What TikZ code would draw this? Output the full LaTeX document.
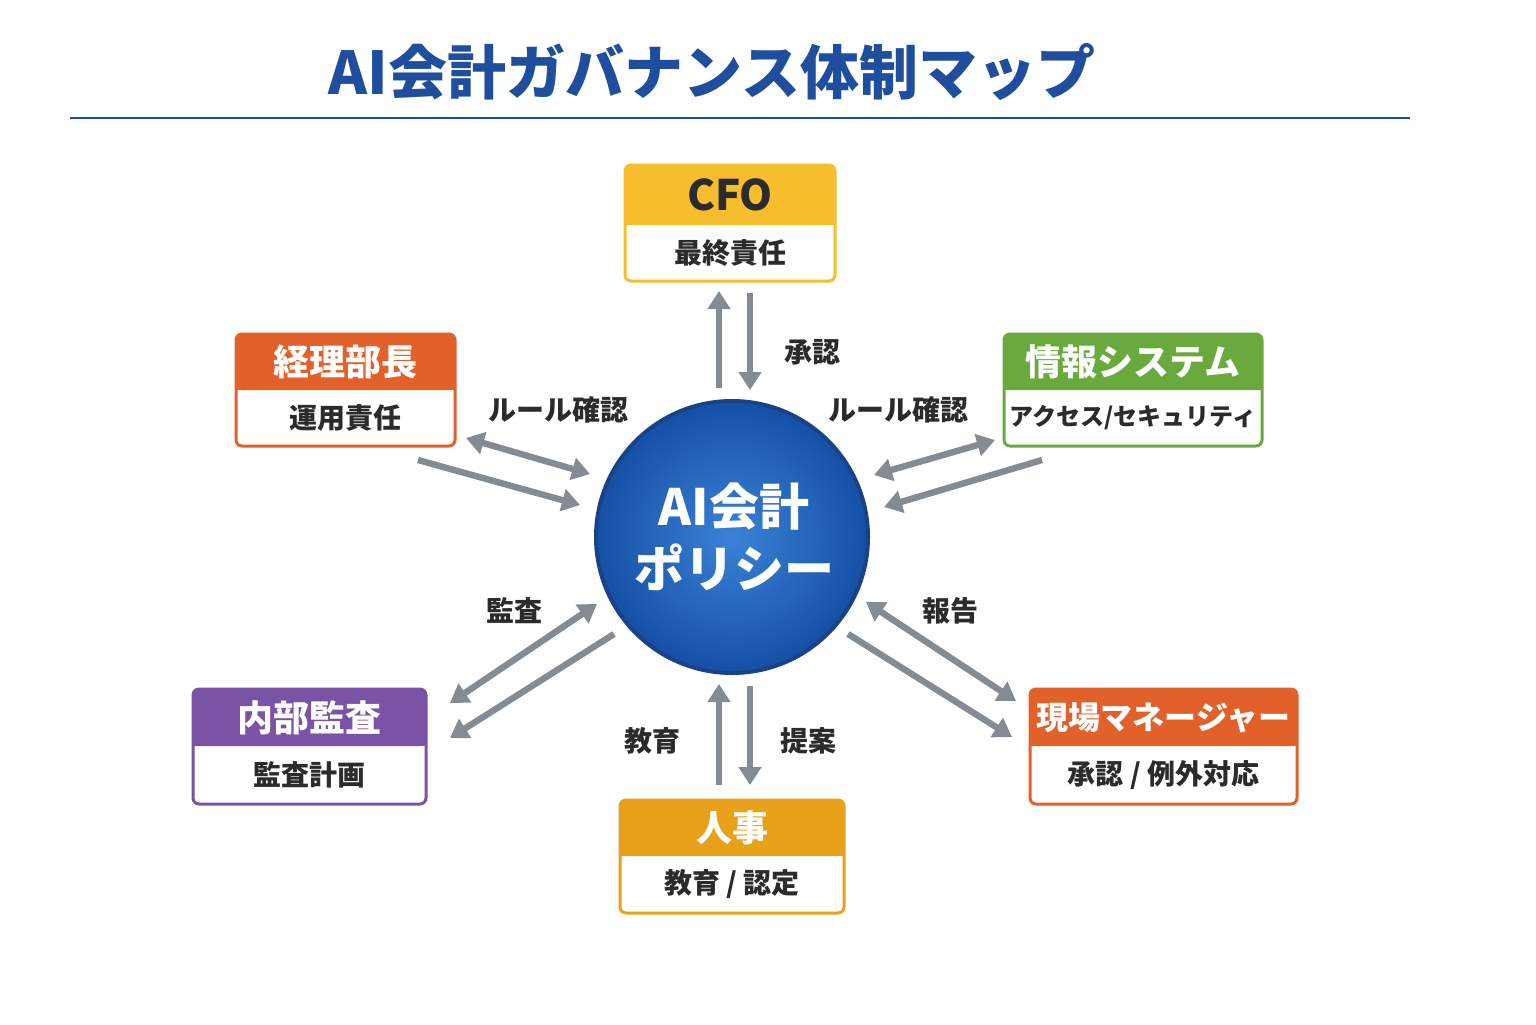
\documentclass[tikz,border=0pt]{standalone}
\usepackage{fontspec}
\setmainfont{Noto Sans CJK JP}
\usetikzlibrary{arrows.meta}
\definecolor{ttl}{HTML}{1F4E9E}
\definecolor{arr}{HTML}{858B92}
\definecolor{cyel}{HTML}{F6BE2C}
\definecolor{corg}{HTML}{E2602A}
\definecolor{cgrn}{HTML}{6AA93B}
\definecolor{cpur}{HTML}{7A53A6}
\definecolor{chr}{HTML}{E8A11A}
\definecolor{txt}{HTML}{2B2B2B}
\definecolor{cin}{HTML}{3A82D6}
\definecolor{cout}{HTML}{1550A6}
\tikzset{
 ar/.style={draw=arr,line width=3.2pt,-{Triangle[length=9pt,width=11pt]}},
 dar/.style={draw=arr,line width=3.2pt,{Triangle[length=9pt,width=11pt]}-{Triangle[length=9pt,width=11pt]}},
 lbl/.style={font=\bfseries\fontsize{14}{16}\selectfont,text=txt},
}
\newcommand\rolebox[9]{%
 \fill[white,rounded corners=3pt] (#2,#3) rectangle (#4,#5);
 \fill[#7,rounded corners=3pt] (#2,#3) rectangle (#4,#6);
 \fill[#7] (#2,#6-8) rectangle (#4,#6);
 \draw[#7,line width=1.5pt,rounded corners=3pt] (#2,#3) rectangle (#4,#5);
 \node[font=\bfseries\fontsize{18}{20}\selectfont,text=white] (#1h) at ({(#2+#4)/2},{(#3+#6)/2}) {#8};
 \node[font=\bfseries\fontsize{14}{16}\selectfont,text=txt] (#1b) at ({(#2+#4)/2},{(#6+#5)/2}) {#9};
}
\begin{document}
\begin{tikzpicture}[x=0.5pt,y=-0.5pt]
\useasboundingbox[fill=white] (0,0) rectangle (1536,1024);
\node[font=\bfseries\fontsize{29.5}{32}\selectfont,text=ttl] (title) at (712,72) {AI会計ガバナンス体制マップ};
\draw[ttl,line width=0.7pt] (70,118) -- (1410,118);

\shade[inner color=cin,outer color=cout,draw=ttl!85!black,line width=2pt] (732,537) circle (136);
\node[align=center,text=white,font=\bfseries\fontsize{25}{31}\selectfont] (pol) at (734,537) {AI会計\\ポリシー};

\rolebox{cfo}{625}{165}{835}{281}{225}{cyel}{\textcolor{txt}{\fontsize{21}{22}\selectfont CFO}}{最終責任}
\rolebox{kei}{236}{334}{455}{446}{390}{corg}{経理部長}{運用責任}
\rolebox{jou}{1004}{334}{1262}{446}{390}{cgrn}{情報システム}{\fontsize{12}{14}\selectfont アクセス/セキュリティ}
\rolebox{nai}{193}{689}{426}{804}{746}{cpur}{内部監査}{監査計画}
\rolebox{gen}{1030}{689}{1297}{804}{746}{corg}{\fontsize{16}{18}\selectfont 現場マネージャー}{承認 / 例外対応}
\rolebox{jin}{620}{800}{844}{913}{856}{chr}{人事}{教育 / 認定}

\coordinate (c1a) at (719,388); \coordinate (c1b) at (719,291);
\coordinate (c2a) at (750,293); \coordinate (c2b) at (750,390);
\draw[ar] (c1a) -- (c1b); \draw[ar] (c2a) -- (c2b);
\node[lbl] at (812,352) {承認};

\coordinate (k1a) at (466,438); \coordinate (k1b) at (590,474);
\coordinate (k2a) at (418,460); \coordinate (k2b) at (580,505);
\draw[dar] (k1a) -- (k1b); \draw[ar] (k2a) -- (k2b);
\node[lbl] at (558,410) {ルール確認};

\coordinate (j1a) at (995,440); \coordinate (j1b) at (874,475);
\coordinate (j2a) at (1042,460); \coordinate (j2b) at (884,507);
\draw[dar] (j1a) -- (j1b); \draw[ar] (j2a) -- (j2b);
\node[lbl] at (898,410) {ルール確認};

\coordinate (n1a) at (597,604); \coordinate (n1b) at (450,703);
\coordinate (n2a) at (614,634); \coordinate (n2b) at (450,738);
\draw[dar] (n1a) -- (n1b); \draw[ar] (n2a) -- (n2b);
\node[lbl] at (514,611) {監査};

\coordinate (g1a) at (866,602); \coordinate (g1b) at (1016,701);
\coordinate (g2a) at (848,634); \coordinate (g2b) at (1012,737);
\draw[dar] (g1a) -- (g1b); \draw[ar] (g2a) -- (g2b);
\node[lbl] at (950,611) {報告};

\coordinate (h1a) at (719,785); \coordinate (h1b) at (719,684);
\coordinate (h2a) at (750,686); \coordinate (h2b) at (750,785);
\draw[ar] (h1a) -- (h1b); \draw[ar] (h2a) -- (h2b);
\node[lbl] at (652,741) {教育};
\node[lbl] at (808,741) {提案};
\end{tikzpicture}
\end{document}
